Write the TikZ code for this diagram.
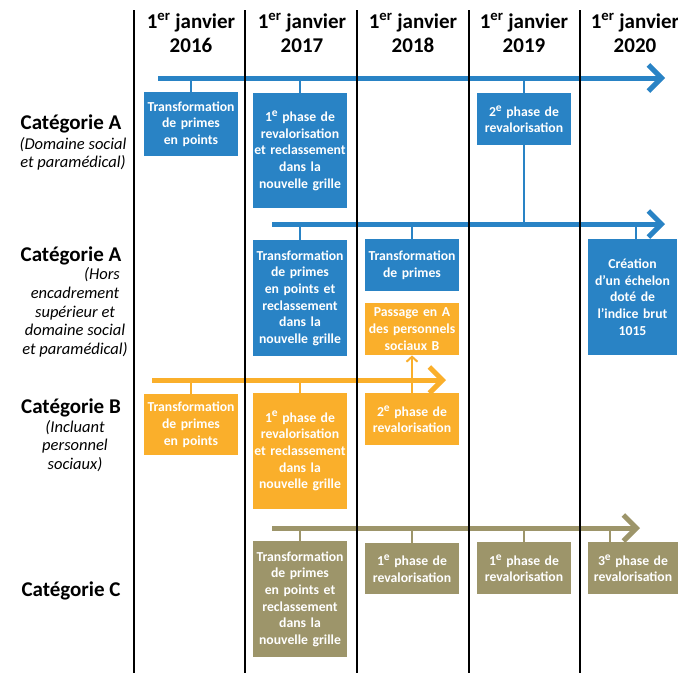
\documentclass[tikz,border=0pt]{standalone}
\usepackage{fontspec}
\setmainfont{Carlito}
\usetikzlibrary{arrows.meta}
\definecolor{cblue}{RGB}{41,131,197}
\definecolor{corange}{RGB}{250,175,43}
\definecolor{ckhaki}{RGB}{157,149,106}
\newcommand\ordE{\raisebox{0.38em}{\fontsize{11.5}{11.5}\selectfont e}}
\begin{document}
\begin{tikzpicture}[x=1pt,y=-1pt,
  box/.style={anchor=north,inner sep=0pt,align=center,text=white,
    font=\fontsize{13.7}{16.7}\selectfont\bfseries,
    minimum width=94pt,text width=94pt},
  hdr/.style={align=center,inner sep=0pt,font=\fontsize{21}{24}\selectfont\bfseries},
  cattitle/.style={inner sep=0pt,font=\fontsize{21}{24}\selectfont\bfseries},
  catsub/.style={inner sep=0pt,align=center,font=\fontsize{16.5}{18.5}\selectfont\itshape},
  tl/.style={draw=#1,line width=5pt,-{Straight Barb[length=13pt,width=26pt]}},
  stem/.style={draw=#1,line width=2pt},
  divider/.style={draw=black,line width=1.5pt}]
\useasboundingbox (0,0) rectangle (678,673);

% headers
\node[hdr] (h16) at (191,33) {1\textsuperscript{er} janvier\\2016};
\node[hdr] (h17) at (302,33) {1\textsuperscript{er} janvier\\2017};
\node[hdr] (h18) at (413,33) {1\textsuperscript{er} janvier\\2018};
\node[hdr] (h19) at (524,33) {1\textsuperscript{er} janvier\\2019};
\node[hdr] (h20) at (635,33) {1\textsuperscript{er} janvier\\2020};

% category labels
\node[cattitle] (ca1) at (71,124) {Catégorie A};
\node[catsub] (ca1s) at (73,154) {(Domaine social\\et paramédical)};
\node[cattitle] (ca2) at (71,256) {Catégorie A};
\node[catsub] (ca2h) at (102,275) {(Hors};
\node[catsub] (ca2s) at (75,322) {encadrement\\supérieur et\\domaine social\\et paramédical)};
\node[cattitle] (cb) at (71,408) {Catégorie B};
\node[catsub] (cbs) at (75,446) {(Incluant\\personnel\\sociaux)};
\node[cattitle] (cc) at (71,591) {Catégorie C};

% timeline coordinates
\coordinate (a1s) at (158,78);  \coordinate (a1e) at (665,78);
\coordinate (a2s) at (272,224); \coordinate (a2e) at (665,224);
\coordinate (bs)  at (152,380); \coordinate (be)  at (446,380);
\coordinate (cs)  at (272,528); \coordinate (ce)  at (640,528);

% Category A (social)
\node[box,fill=cblue,minimum height=64pt] (a11) at (191,92) {Transformation\\de primes\\en points};
\node[box,fill=cblue,minimum height=115pt] (a12) at (300,93) {1\ordE{} phase de\\revalorisation\\et reclassement\\dans la\\nouvelle grille};
\node[box,fill=cblue,minimum height=52pt] (a13) at (524,93) {2\ordE{} phase de\\revalorisation};

% Category A (hors)
\node[box,fill=cblue,minimum height=116pt] (a21) at (300,240) {Transformation\\de primes\\en points et\\reclassement\\dans la\\nouvelle grille};
\node[box,fill=cblue,minimum height=52pt] (a22) at (412,239) {Transformation\\de primes};
\node[box,fill=cblue,minimum height=116pt,minimum width=89pt,text width=89pt] (a23) at (632.5,239) {Création\\d’un échelon\\doté de\\l’indice brut\\1015};

% Category B
\node[box,fill=corange,minimum height=52pt] (pass) at (412,303) {Passage en A\\des personnels\\sociaux B};
\node[box,fill=corange,minimum height=61pt] (b1) at (191,394) {Transformation\\de primes\\en points};
\node[box,fill=corange,minimum height=116pt] (b2) at (300,393) {1\ordE{} phase de\\revalorisation\\et reclassement\\dans la\\nouvelle grille};
\node[box,fill=corange,minimum height=52pt] (b3) at (412,393) {2\ordE{} phase de\\revalorisation};

% Category C
\node[box,fill=ckhaki,minimum height=116pt] (c1) at (300,541) {Transformation\\de primes\\en points et\\reclassement\\dans la\\nouvelle grille};
\node[box,fill=ckhaki,minimum height=51pt] (c2) at (412,543) {1\ordE{} phase de\\revalorisation};
\node[box,fill=ckhaki,minimum height=52pt] (c3) at (524,542) {1\ordE{} phase de\\revalorisation};
\node[box,fill=ckhaki,minimum height=52pt,minimum width=90pt,text width=90pt] (c4) at (633,542) {3\ordE{} phase de\\revalorisation};

% stems
\draw[stem=cblue] (a11.north) -- (a11.north |- a1s);
\draw[stem=cblue] (a12.north) -- (a12.north |- a1s);
\draw[stem=cblue] (a13.north) -- (a13.north |- a1s);
\draw[stem=cblue] (a13.south) -- (a13.south |- a2s);
\draw[stem=cblue] (a21.north) -- (a21.north |- a2s);
\draw[stem=cblue] (a22.north) -- (a22.north |- a2s);
\draw[stem=cblue] ([xshift=3.5pt]a23.north) -- ([xshift=3.5pt]a23.north |- a2s);
\draw[stem=corange] (b1.north) -- (b1.north |- bs);
\draw[stem=corange] (b2.north) -- (b2.north |- bs);
\draw[stem=corange,-{Straight Barb[length=5pt,width=11pt]}] (b3.north) -- (pass.south);
\draw[stem=ckhaki] (c1.north) -- (c1.north |- cs);
\draw[stem=ckhaki] (c2.north) -- (c2.north |- cs);
\draw[stem=ckhaki] (c3.north) -- (c3.north |- cs);
\draw[stem=ckhaki] ([xshift=-23pt]c4.north) -- ([xshift=-23pt]c4.north |- cs);

% timelines
\draw[tl=cblue] (a1s) -- (a1e);
\draw[tl=cblue] (a2s) -- (a2e);
\draw[tl=corange] (bs) -- (be);
\draw[tl=ckhaki] (cs) -- (ce);

% column dividers
\foreach \xx in {134,245,357,469,580}
  \draw[divider] (\xx,10) -- (\xx,673);
\end{tikzpicture}
\end{document}
